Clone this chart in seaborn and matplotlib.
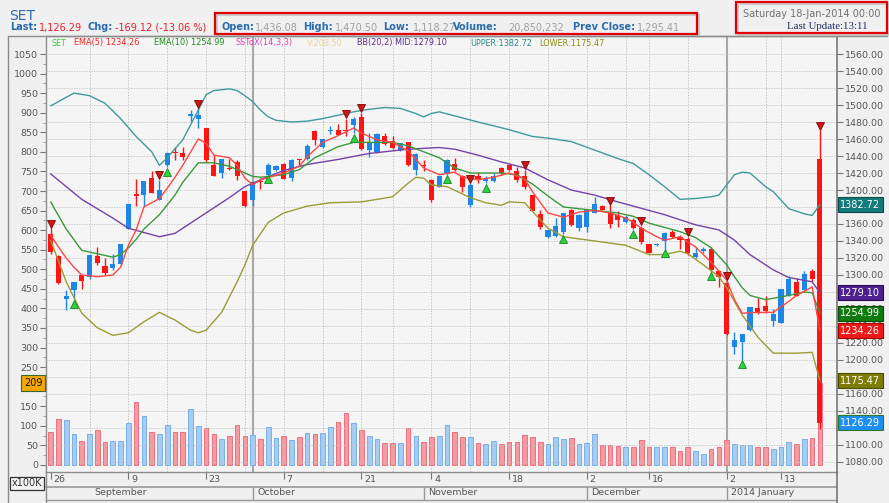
import numpy as np
import pandas as pd
import matplotlib
matplotlib.use('Agg')
import matplotlib.pyplot as plt
import matplotlib.transforms as mtransforms
from matplotlib.lines import Line2D
from matplotlib.patches import Rectangle
from matplotlib.ticker import FormatStrFormatter
import seaborn as sns

# daily OHLC (price, right axis)
opens = [1348, 1322, 1272, 1282, 1300, 1298, 1322, 1311, 1308, 1313,
         1354, 1395, 1394, 1414, 1388, 1430, 1444, 1444, 1487, 1484,
         1473, 1430, 1420, 1426, 1433, 1399, 1388, 1411, 1418, 1423,
         1431, 1414, 1436, 1436, 1469, 1451, 1469, 1471, 1471, 1477,
         1486, 1447, 1445, 1464, 1458, 1447, 1456, 1424, 1429, 1412,
         1404, 1419, 1431, 1416, 1382, 1417, 1411, 1411, 1426, 1430,
         1422, 1416, 1394, 1372, 1345, 1346, 1350, 1377, 1355, 1357,
         1373, 1381, 1373, 1370, 1362, 1365, 1355, 1337, 1335, 1340,
         1350, 1345, 1342, 1321, 1328, 1331, 1305, 1291, 1215, 1221,
         1235, 1261, 1264, 1246, 1243, 1275, 1292, 1282, 1305, 1436.08]
highs = [1355, 1323, 1282, 1292, 1300, 1325, 1333, 1320, 1325, 1337,
         1384, 1413, 1411, 1422, 1412, 1445, 1451, 1451, 1494, 1496,
         1473, 1441, 1437, 1436, 1435, 1399, 1410, 1414, 1432, 1430,
         1432, 1437, 1436, 1454, 1471, 1460, 1475, 1478, 1484, 1486,
         1491, 1467, 1467, 1467, 1463, 1455, 1457, 1444, 1435, 1413,
         1416, 1436, 1438, 1418, 1408, 1421, 1416, 1420, 1427, 1431,
         1427, 1424, 1394, 1377, 1353, 1367, 1373, 1378, 1372, 1377,
         1392, 1382, 1382, 1375, 1370, 1367, 1358, 1337, 1338, 1351,
         1353, 1347, 1345, 1333, 1333, 1333, 1306, 1293, 1233, 1231,
         1262, 1273, 1275, 1260, 1283, 1299, 1297, 1305, 1307, 1470.50]
lows = [1325, 1289, 1259, 1271, 1284, 1295, 1312, 1300, 1306, 1312,
        1354, 1381, 1381, 1397, 1388, 1427, 1435, 1435, 1480, 1473,
        1433, 1416, 1414, 1424, 1412, 1380, 1381, 1401, 1418, 1422,
        1413, 1411, 1428, 1435, 1453, 1450, 1466, 1465, 1463, 1467,
        1447, 1439, 1443, 1453, 1448, 1446, 1428, 1418, 1422, 1386,
        1403, 1418, 1422, 1398, 1380, 1408, 1408, 1410, 1418, 1422,
        1409, 1401, 1375, 1354, 1344, 1345, 1348, 1358, 1352, 1351,
        1373, 1376, 1355, 1357, 1361, 1354, 1337, 1326, 1334, 1331,
        1344, 1331, 1324, 1320, 1326, 1304, 1286, 1229, 1207, 1200,
        1234, 1254, 1255, 1240, 1243, 1275, 1275, 1282, 1292, 1118.27]
closes = [1327, 1291, 1275, 1292, 1293, 1323, 1314, 1302, 1313, 1336,
          1384, 1393, 1411, 1397, 1400, 1444, 1443, 1439, 1490, 1488,
          1435, 1417, 1436, 1425, 1417, 1381, 1409, 1409, 1429, 1428,
          1413, 1435, 1435, 1452, 1459, 1460, 1471, 1465, 1469, 1484,
          1448, 1457, 1466, 1454, 1449, 1455, 1430, 1442, 1428, 1388,
          1416, 1435, 1424, 1404, 1406, 1412, 1413, 1416, 1420, 1423,
          1412, 1404, 1375, 1356, 1353, 1358, 1373, 1359, 1371, 1377,
          1384, 1377, 1360, 1365, 1368, 1355, 1339, 1326, 1337, 1349,
          1345, 1341, 1326, 1326, 1331, 1306, 1298, 1230, 1224, 1230,
          1262, 1256, 1258, 1254, 1283, 1295, 1275, 1301, 1295.41, 1126.29]
# volume in x100K (left axis)
volumes = [84, 117, 115, 80, 61, 80, 89, 59, 61, 61,
           107, 161, 125, 84, 80, 101, 84, 84, 142, 99,
           94, 80, 66, 75, 103, 75, 76, 66, 97, 68,
           73, 64, 71, 82, 80, 83, 98, 109, 134, 108,
           90, 73, 66, 55, 57, 57, 94, 73, 59, 71,
           73, 102, 84, 71, 71, 57, 54, 61, 53, 59,
           59, 76, 71, 59, 53, 71, 66, 68, 54, 56,
           78, 50, 50, 49, 46, 47, 63, 46, 47, 47,
           47, 37, 45, 36, 28, 40, 47, 63, 54, 50,
           52, 47, 47, 42, 45, 59, 53, 66, 70, 208.5]

# indicator lines (bar index, value)
ema5_idx = [0, 1, 2, 3, 4, 6, 8, 9, 10, 11, 12, 14, 15, 16, 17, 19, 20, 21, 23, 24, 25, 26,
            27, 30, 32, 33, 35, 37, 39, 40, 42, 44, 46, 48, 50, 52, 53, 55, 57, 59, 61, 62,
            64, 66, 68, 70, 72, 74, 75, 76, 78, 79, 81, 83, 85, 87, 88, 89, 91, 93, 95, 96, 98, 99]
ema5 = [1347, 1333, 1320, 1309, 1300, 1298, 1300, 1309, 1335, 1353, 1380, 1390, 1402, 1415,
        1429, 1460, 1455, 1441, 1438, 1429, 1414, 1406, 1412, 1420, 1428, 1439, 1456, 1464,
        1473, 1467, 1459, 1456, 1446, 1426, 1418, 1421, 1415, 1412, 1415, 1420, 1413, 1398,
        1373, 1368, 1374, 1376, 1373, 1367, 1362, 1355, 1345, 1341, 1345, 1333, 1315, 1294,
        1271, 1255, 1256, 1256, 1269, 1276, 1286, 1234.26]
ema10_idx = [0, 2, 4, 6, 8, 9, 10, 11, 12, 14, 16, 17, 19, 21, 23, 25, 26, 27, 30, 32, 34, 37,
             39, 42, 44, 46, 48, 50, 52, 54, 56, 58, 60, 62, 64, 66, 68, 70, 73, 75, 77, 79,
             81, 83, 85, 86, 87, 88, 89, 90, 92, 95, 97, 98, 99]
ema10 = [1386, 1354, 1329, 1325, 1321, 1324, 1332, 1342, 1354, 1371, 1394, 1409, 1432, 1432,
         1428, 1420, 1416, 1415, 1418, 1424, 1438, 1451, 1456, 1456, 1456, 1452, 1445, 1438,
         1426, 1420, 1420, 1420, 1418, 1407, 1393, 1380, 1378, 1376, 1373, 1369, 1361, 1356,
         1351, 1344, 1332, 1322, 1312, 1298, 1285, 1276, 1271, 1276, 1280, 1279, 1254.99]
bb_mid_idx = [0, 4, 8, 10, 14, 16, 20, 23, 25, 27, 30, 33, 37, 41, 46, 50, 52, 55, 58, 61,
              64, 67, 70, 73, 75, 79, 83, 86, 88, 90, 93, 95, 98, 99]
bb_mid = [1419, 1389, 1367, 1355, 1345, 1349, 1373, 1391, 1404, 1412, 1423, 1430, 1436, 1443,
          1448, 1450, 1448, 1441, 1433, 1426, 1412, 1400, 1394, 1386, 1381, 1371, 1359, 1353,
          1341, 1324, 1306, 1297, 1292, 1279.10]
bb_up_idx = [0, 1, 3, 5, 7, 9, 11, 13, 14, 15, 17, 19, 20, 21, 23, 24, 25, 26, 27, 28, 29, 31,
             33, 35, 37, 39, 41, 43, 45, 47, 48, 49, 50, 55, 59, 62, 64, 67, 70, 73, 75, 77,
             79, 81, 83, 85, 86, 87, 88, 89, 90, 91, 92, 93, 95, 97, 98, 99]
bb_up = [1499, 1504, 1514, 1511, 1502, 1484, 1463, 1445, 1429, 1438, 1459, 1494, 1512, 1517,
         1519, 1517, 1511, 1504, 1494, 1486, 1482, 1480, 1481, 1484, 1488, 1492, 1495, 1497,
         1496, 1490, 1486, 1490, 1492, 1480, 1471, 1463, 1461, 1457, 1447, 1437, 1431, 1418,
         1404, 1389, 1390, 1392, 1394, 1406, 1418, 1421, 1420, 1412, 1404, 1398, 1378, 1372,
         1370, 1382.72]
bb_lo_idx = [0, 2, 4, 6, 8, 10, 12, 14, 16, 18, 19, 20, 22, 24, 25, 26, 28, 30, 33, 36, 40,
             44, 46, 47, 48, 49, 51, 54, 56, 58, 59, 61, 62, 64, 66, 70, 74, 77, 79, 81, 82,
             84, 86, 87, 89, 91, 93, 96, 98, 99]
bb_lo = [1341, 1292, 1255, 1238, 1229, 1232, 1245, 1256, 1247, 1235, 1232, 1235, 1256, 1292,
         1312, 1335, 1362, 1373, 1381, 1385, 1386, 1392, 1408, 1415, 1414, 1406, 1404, 1391,
         1385, 1382, 1386, 1385, 1375, 1355, 1345, 1340, 1335, 1324, 1324, 1328, 1325, 1312,
         1298, 1285, 1253, 1227, 1208, 1208, 1209, 1175.47]

# signal markers
sig_dn = [0, 14, 19, 38, 40, 54, 61, 72, 76, 82, 87, 99]
sig_up = [3, 15, 28, 39, 51, 56, 66, 75, 79, 85, 89]

# date axis
day_pos = [0, 10, 20, 30, 40, 49, 59, 69, 77, 87, 94]
day_lab = ['26', '9', '23', '7', '21', '4', '18', '2', '16', '2', '13']
month_pos = [5, 26, 48, 69, 87]
month_lab = ['September', 'October', 'November', 'December', '2014 January']
week_lines = [5, 10, 15, 20, 25, 30, 35, 40, 44, 49, 54, 59, 64, 69, 74, 77, 82, 92, 94]
quarter_lines = [26, 87]

sns.set_style('white')
plt.rcParams['font.family'] = ['DejaVu Sans']

df = pd.DataFrame({'open': opens, 'high': highs, 'low': lows, 'close': closes, 'volume': volumes})
df['up'] = df['close'] >= df['open']
x = np.arange(len(df))

W, H = 889, 503
fig = plt.figure(figsize=(W / 100, H / 100), dpi=100, facecolor='#f0f0f0')


def fx(px):
    return px / W


def fy(py):
    return 1 - py / H


L, R, T, B = 46, 837, 36, 472
ax = fig.add_axes([fx(L), fy(B), fx(R) - fx(L), fy(T) - fy(B)], facecolor='#f5f5f5')
ax2 = ax.twinx()

# grid
for w in week_lines:
    ax.axvline(w, color='#c4c4c4', lw=0.7, ls=(0, (1.5, 1.5)), zorder=1)
for q in quarter_lines:
    ax.axvline(q, color='#a8a8a8', lw=1.5, zorder=1)

# volume
ax.bar(x, df['volume'], width=0.6,
       color=np.where(df['up'], '#a5cdf3', '#f59aa1'),
       edgecolor=np.where(df['up'], '#78b0ea', '#ee7080'), linewidth=0.7, zorder=2)

# candles
ccol = np.where(df['up'], '#1d86e8', '#ff1414')
ax2.vlines(x, df['low'], df['high'], colors=ccol, lw=1.0, zorder=4)
body_lo = np.minimum(df['open'], df['close'])
body_h = np.maximum((df['close'] - df['open']).abs(), 1.2)
ax2.bar(x, body_h, bottom=body_lo, width=0.66, color=ccol, lw=0, zorder=5)

# indicators
for xi, yi, col in [(bb_up_idx, bb_up, '#3f9b9b'), (bb_mid_idx, bb_mid, '#7443a8'),
                    (bb_lo_idx, bb_lo, '#9c9c35'), (ema10_idx, ema10, '#3a9a3a'),
                    (ema5_idx, ema5, '#ff4646')]:
    sns.lineplot(x=xi, y=yi, ax=ax2, color=col, lw=1.0, zorder=6)

dn_tr = mtransforms.offset_copy(ax2.transData, fig=fig, x=0, y=4.5, units='dots')
up_tr = mtransforms.offset_copy(ax2.transData, fig=fig, x=0, y=-4.5, units='dots')
ax2.plot(sig_dn, df['high'].iloc[sig_dn], ls='none', marker='v', ms=5.5, mfc='#c81818',
         mec='#8a0000', mew=0.6, transform=dn_tr, zorder=7)
ax2.plot(sig_up, df['low'].iloc[sig_up], ls='none', marker='^', ms=5.5, mfc='#2ed040',
         mec='#128a22', mew=0.6, transform=up_tr, zorder=7)

# axes
ax2.yaxis.grid(True, color='#c2c2c2', lw=0.6, ls=(0, (1.5, 1.5)))
ax2.set_axisbelow(True)
ax.set_yticks(np.arange(0, 1051, 50))
ax.set_yticks(np.arange(25, 1050, 50), minor=True)
ax.tick_params(axis='y', which='major', left=True, length=4, width=0.8, color='#777',
               labelsize=6.8, labelcolor='#555', pad=1.5)
ax.tick_params(axis='y', which='minor', left=True, length=2, width=0.6, color='#999')
ax.set_xticks(day_pos)
ax.set_xticklabels([])
ax.tick_params(axis='x', bottom=True, length=5, width=0.8, color='#777')
ax2.set_yticks(np.arange(1080, 1561, 20))
ax2.yaxis.set_major_formatter(FormatStrFormatter('%.2f'))
ax2.tick_params(axis='y', right=True, length=4, width=0.8, color='#777',
                labelsize=6.8, labelcolor='#555', pad=1.5)
for s in ['left', 'top', 'bottom']:
    ax.spines[s].set_color('#8c8c8c')
    ax.spines[s].set_linewidth(1.0)
ax.spines['right'].set_visible(False)
for s in ['left', 'top', 'bottom']:
    ax2.spines[s].set_visible(False)
ax2.spines['right'].set_color('#777')
ax2.spines['right'].set_linewidth(1.2)
ax.set_xlabel('')
ax.set_ylabel('')
ax2.set_xlabel('')
ax2.set_ylabel('')

xt = ax.get_xaxis_transform()
for p, lab in zip(day_pos, day_lab):
    ax.text(p + 0.35, -0.017, lab, transform=xt, ha='left', va='center', fontsize=6.8,
            color='#555', clip_on=False)
for p, lab in zip(month_pos, month_lab):
    ax.text(p + 0.6, -0.048, lab, transform=xt, ha='left', va='center', fontsize=6.8,
            color='#555', clip_on=False)
for p in month_pos[1:]:
    ax.plot([p, p], [-0.034, -0.063], transform=xt, color='#999', lw=1, clip_on=False)

# legend line
leg = [(52, 'SET', '#3dcc3d'),
       (74, f'EMA(5) {ema5[-1]:.2f}', '#ff2020'),
       (154, f'EMA(10) {ema10[-1]:.2f}', '#1e8c1e'),
       (236, 'SSToX(14,3,3)', '#e040b0'),
       (307, f'V:{volumes[-1]:.2f}', '#ecd49c'),
       (357, f'BB(20,2) MID:{bb_mid[-1]:.2f}', '#5a2a8a'),
       (470, f'UPPER:{bb_up[-1]:.2f}', '#2a8a8a'),
       (539, f'LOWER:{bb_lo[-1]:.2f}', '#8a8a10')]
for px, s, c in leg:
    fig.text(fx(px), fy(43), s, ha='left', va='center', fontsize=5.9, color=c)

# value tags on the right axis
tag_tr = mtransforms.blended_transform_factory(ax2.transAxes, ax2.transData)
tags = [(bb_up[-1], '#127a7a', '#0a4d4d'), (bb_mid[-1], '#4e1f8e', '#2a0a5a'),
        (ema10[-1], '#0f7a0f', '#0a4a0a'), (ema5[-1], '#f01818', '#a00000'),
        (bb_lo[-1], '#7d7d05', '#4a4a00'), (closes[-1], '#1e8ef0', '#2a7a2a')]
for v, fc, ec in tags:
    ax2.text(1.004, v, f'{v:.2f}', transform=tag_tr, ha='left', va='center', fontsize=7,
             color='white', zorder=10, clip_on=False,
             bbox=dict(boxstyle='square,pad=0.25', fc=fc, ec=ec, lw=0.8))
vtag_tr = mtransforms.blended_transform_factory(ax.transAxes, ax.transData)
ax.text(-0.0164, volumes[-1], str(int(volumes[-1] + 0.5)), transform=vtag_tr, ha='center',
        va='center', fontsize=7, color='#111', zorder=10, clip_on=False,
        bbox=dict(boxstyle='square,pad=0.3', fc='#f5a800', ec='#3a6a2a', lw=0.8))
fig.text(fx(27), fy(483.5), 'x100K', ha='center', va='center', fontsize=7, color='#333',
         bbox=dict(boxstyle='square,pad=0.2', fc='#f4f4f4', ec='#333', lw=0.9))

# frame lines
def fline(xs, ys, **kw):
    fig.add_artist(Line2D([fx(v) for v in xs], [fy(v) for v in ys], transform=fig.transFigure, **kw))


fline([8, 8], [36, 503], color='#8c8c8c', lw=1)
fline([8, 887], [36, 36], color='#8c8c8c', lw=1)
fline([46, 837], [486.5, 486.5], color='#999', lw=1.2)
fline([46, 837], [499.5, 499.5], color='#999', lw=1)
fline([46, 46], [472, 503], color='#8c8c8c', lw=1)
fline([837, 837], [472, 503], color='#777', lw=1.2)

# header
fig.text(fx(9), fy(15.5), 'SET', ha='left', va='center', fontsize=10, color='#2e6aa8')
blue, red, grey = '#2a6cb0', '#e8202a', '#a0a0a0'
head = [(10, 'Last:', blue, 'bold'), (39, '1,126.29', red, 'normal'),
        (87, 'Chg:', blue, 'bold'), (115, '-169.12 (-13.06 %)', red, 'normal'),
        (221, 'Open:', blue, 'bold'), (255, '1,436.08', grey, 'normal'),
        (303, 'High:', blue, 'bold'), (335, '1,470.50', grey, 'normal'),
        (383, 'Low:', blue, 'bold'), (413, '1,118.27', grey, 'normal'),
        (453, 'Volume:', blue, 'bold'), (508, '20,850,232', grey, 'normal'),
        (573, 'Prev Close:', blue, 'bold'), (637, '1,295.41', grey, 'normal')]
for px, s, c, wt in head:
    fig.text(fx(px), fy(27.5), s, ha='left', va='center', fontsize=7, color=c, fontweight=wt)

for (x0, y0, x1, y1) in [(215, 13, 697, 34), (736, 2, 887, 33)]:
    fig.add_artist(Rectangle((fx(x0 + 2), fy(y1 + 2)), fx(x1) - fx(x0), fy(y0) - fy(y1),
                             transform=fig.transFigure, fill=False, ec='#cccccc', lw=1.5))
    fig.add_artist(Rectangle((fx(x0), fy(y1)), fx(x1) - fx(x0), fy(y0) - fy(y1),
                             transform=fig.transFigure, fill=False, ec='#e00000', lw=1.6))
fig.text(fx(743), fy(14), 'Saturday 18-Jan-2014 00:00', ha='left', va='center', fontsize=7,
         color='#707070')
fig.text(fx(787), fy(26.5), 'Last Update:13:11', ha='left', va='center', fontsize=7.8,
         color='#1f2a60', family=['Liberation Serif'])

ax.set_xlim(-0.6, 101.2)
ax.set_ylim(-17.9, 1096)
ax2.set_ylim(1068.2, 1581.2)

fig.savefig('out.png', dpi=100, facecolor=fig.get_facecolor())
